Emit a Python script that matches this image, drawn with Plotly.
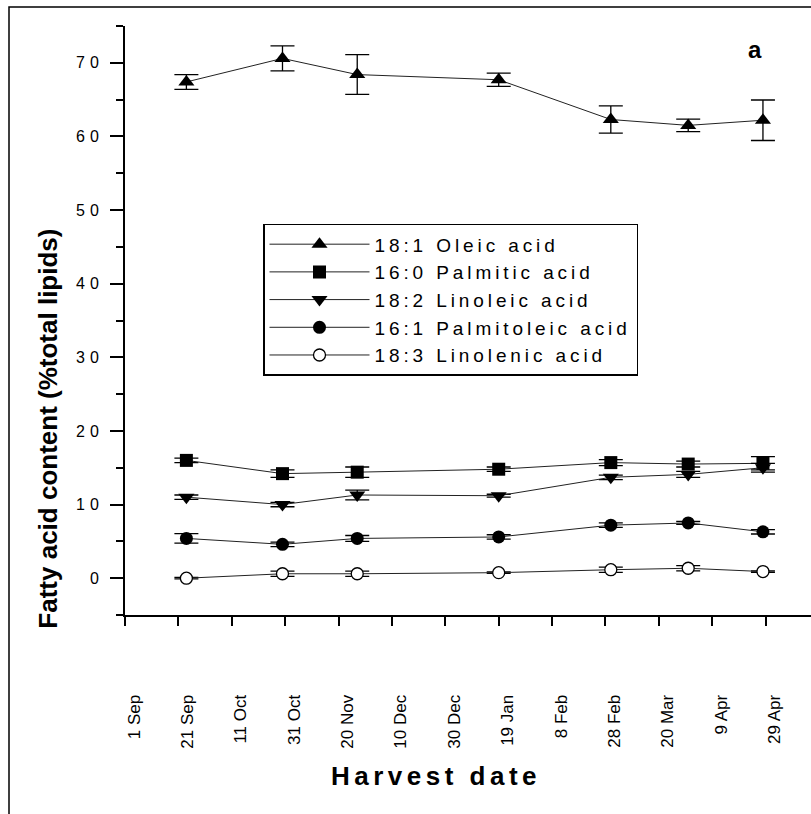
import plotly.graph_objects as go

# ---------------- data ----------------
harvest_days = [23, 59, 87, 140, 182, 211, 239]   # days after 1 Sep

tick_days = [0, 20, 40, 60, 80, 100, 120, 140, 160, 180, 200, 220, 240]
tick_labels = ["1 Sep", "21 Sep", "11 Oct", "31 Oct", "20 Nov", "10 Dec", "30 Dec",
               "19 Jan", "8 Feb", "28 Feb", "20 Mar", "9 Apr", "29 Apr"]

y_ticks = [0, 10, 20, 30, 40, 50, 60, 70]

series_names = ["18:1 Oleic acid", "16:0 Palmitic acid", "18:2 Linoleic acid",
                "16:1 Palmitoleic acid", "18:3 Linolenic acid"]

oleic = [67.4, 70.6, 68.4, 67.7, 62.3, 61.5, 62.2]
oleic_err = [1.0, 1.7, 2.7, 0.9, 1.85, 0.85, 2.75]

palmitic = [16.0, 14.2, 14.4, 14.8, 15.7, 15.5, 15.6]
palmitic_err = [0.3, 0.5, 0.7, 0.3, 0.4, 0.4, 0.9]

linoleic = [11.0, 10.0, 11.3, 11.2, 13.7, 14.1, 15.0]
linoleic_err = [0.3, 0.3, 0.65, 0.2, 0.3, 0.4, 0.6]

palmitoleic = [5.4, 4.6, 5.4, 5.6, 7.2, 7.5, 6.3]
palmitoleic_err = [0.65, 0.3, 0.4, 0.3, 0.3, 0.2, 0.3]

linolenic = [0.0, 0.6, 0.6, 0.75, 1.15, 1.35, 0.9]
linolenic_err = [0.1, 0.35, 0.35, 0.1, 0.35, 0.35, 0.1]

# ---------------- style ----------------
FONT = "Liberation Sans, Arial, sans-serif"

def spaced(t, px):
    return '<span style="letter-spacing:%spx">%s</span>' % (px, t)

styles = [
    dict(symbol="triangle-up", size=14, color="black", line=dict(color="black", width=0)),
    dict(symbol="square", size=13, color="black", line=dict(color="black", width=0)),
    dict(symbol="triangle-down", size=14, color="black", line=dict(color="black", width=0)),
    dict(symbol="circle", size=13, color="black", line=dict(color="black", width=0)),
    dict(symbol="circle", size=12, color="white", line=dict(color="black", width=1.3)),
]

values = [oleic, palmitic, linoleic, palmitoleic, linolenic]
errors = [oleic_err, palmitic_err, linoleic_err, palmitoleic_err, linolenic_err]

fig = go.Figure()
for name, vals, errs, mk in zip(series_names, values, errors, styles):
    fig.add_trace(go.Scatter(
        x=harvest_days, y=vals,
        mode="lines+markers",
        name=spaced(name, 3.9),
        line=dict(color="#222222", width=1),
        marker=mk,
        error_y=dict(type="data", array=errs, visible=True,
                     color="black", thickness=1.3, width=12),
    ))

# plot area in page pixels: x 125..811, y 26..615.5
PX0, PW = 125.0, 686.0
PY1, PH = 615.5, 589.5

def px(x):
    return (x - PX0) / PW

def py(y):
    return (PY1 - y) / PH

# outer frame (cropped at right / bottom like the reference)
fig.add_shape(type="rect", xref="paper", yref="paper",
              x0=px(9), x1=1.2, y0=-1.0, y1=py(7),
              line=dict(color="black", width=1.5), fillcolor="rgba(0,0,0,0)", layer="below")

fig.add_annotation(text="<b>a</b>", xref="paper", yref="paper",
                   x=px(755), y=py(50), xanchor="center", yanchor="middle",
                   showarrow=False, font=dict(family=FONT, size=24, color="black"))

fig.add_annotation(text="<b>Fatty acid content (%total lipids)</b>", xref="paper", yref="paper",
                   x=px(48), y=py(429), xanchor="center", yanchor="middle", textangle=-90,
                   showarrow=False, font=dict(family=FONT, size=26, color="black"))

fig.add_annotation(text="<b>" + spaced("Harvest date", 4.5) + "</b>", xref="paper", yref="paper",
                   x=px(436), y=py(777), xanchor="center", yanchor="middle",
                   showarrow=False, font=dict(family=FONT, size=26, color="black"))

fig.update_layout(
    width=811, height=814,
    margin=dict(l=125, r=0, t=26, b=198.5),
    paper_bgcolor="white", plot_bgcolor="white",
    font=dict(family=FONT, color="black"),
    showlegend=True,
    legend=dict(x=px(263), y=py(224),
                xanchor="left", yanchor="top",
                bordercolor="black", borderwidth=1.5, bgcolor="white",
                font=dict(family=FONT, size=19, color="black"),
                itemwidth=100, tracegroupgap=0),
    xaxis=dict(range=[0, 257], tickmode="array", tickvals=tick_days, ticktext=tick_labels,
               tickangle=-90, ticks="outside", ticklen=9, tickwidth=2, tickcolor="black",
               showline=True, linecolor="black", linewidth=2, showgrid=False, zeroline=False,
               tickfont=dict(family=FONT, size=17, color="black"),
               ticklabelstandoff=62, ticklabelshift=9),
    yaxis=dict(range=[-5, 75], tickmode="array", tickvals=y_ticks,
               ticktext=[spaced(str(v), 5) for v in y_ticks],
               ticks="outside", ticklen=13, tickwidth=2, tickcolor="black",
               showline=True, linecolor="black", linewidth=2, showgrid=False, zeroline=False,
               tickfont=dict(family=FONT, size=16, color="black"),
               ticklabelstandoff=3,
               minor=dict(tick0=5, dtick=10, ticks="outside", ticklen=7, tickwidth=2,
                          tickcolor="black", showgrid=False)),
)

fig.write_html("out.html", config={"displayModeBar": False},
               post_script="document.body.style.margin='0px';document.body.style.padding='0px';")
